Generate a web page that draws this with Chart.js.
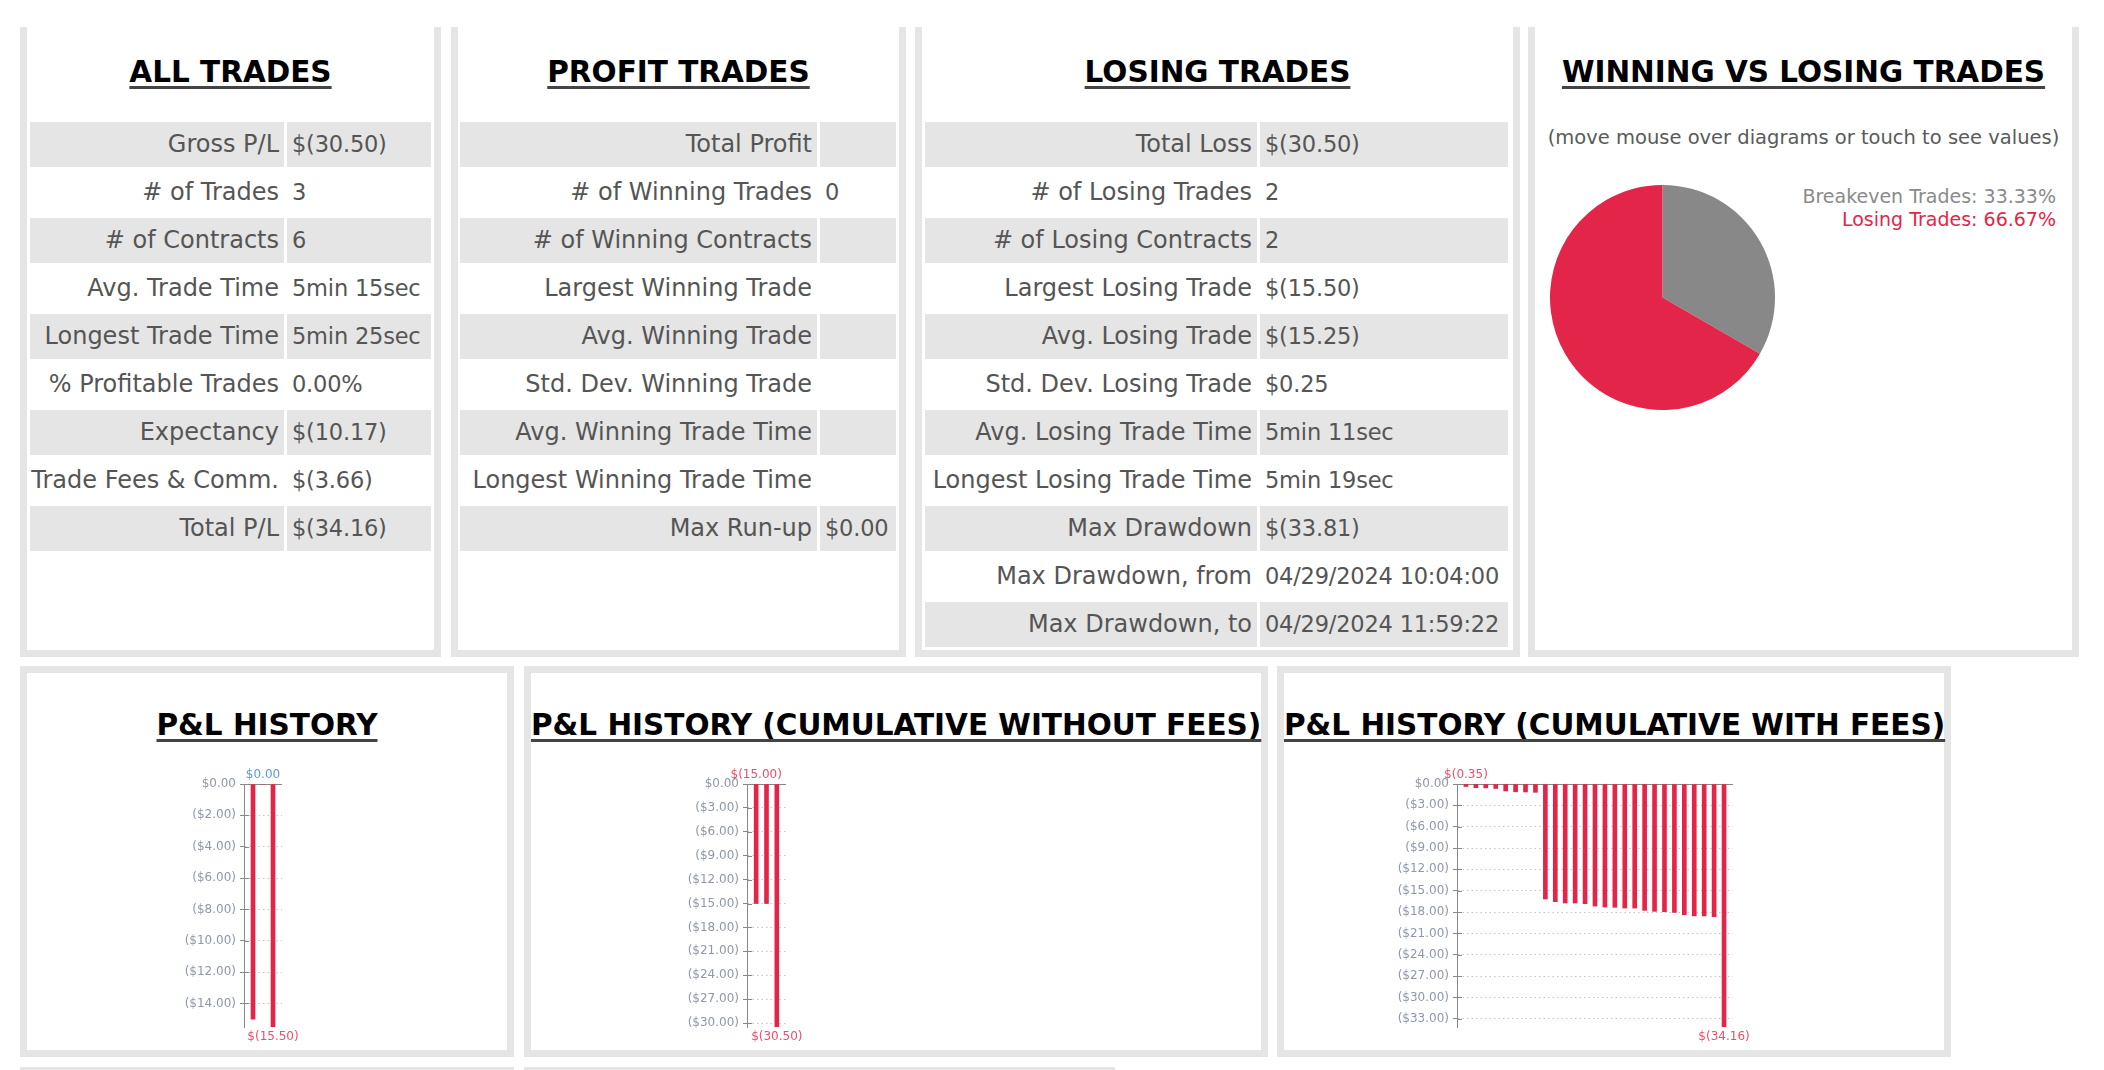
<!DOCTYPE html>
<html>
<head>
<meta charset="utf-8">
<script src="https://cdn.jsdelivr.net/npm/chart.js@4.4.1/dist/chart.umd.min.js"></script>
<style>
  body { margin: 0; width: 2104px; height: 1070px; overflow: hidden; background: #fff; position: relative;
         font-family: "DejaVu Sans", sans-serif; }
  .panel { position: absolute; box-sizing: border-box; border: 7px solid #e5e5e5; background: #fff; }
  .top { top: 27px; height: 630px; border-top: none; }
  .bottom { top: 666px; height: 391px; }
  .title { position: absolute; left: 0; right: 0; text-align: center; font-weight: bold; font-size: 29.5px;
           line-height: 40px; color: #000; white-space: nowrap; }
  .title span { text-decoration: underline; text-decoration-thickness: 3px; text-underline-offset: 4px;
                text-decoration-color: #444; }
  .top .title { top: 25px; }
  .bottom .title { top: 32px; }
  .tbl { position: absolute; top: 95px; }
  .row { display: flex; gap: 3px; height: 45px; margin-bottom: 3px; }
  .row div { box-sizing: border-box; line-height: 45px; color: #555; white-space: nowrap; }
  .row .k { text-align: right; padding-right: 5px; font-size: 24px; }
  .row .v { padding-left: 5px; font-size: 22.5px; letter-spacing: -0.2px; }
  .row.alt div { background: #e5e5e5; }
  .sub { position: absolute; left: 0; right: 0; top: 96px; text-align: center; font-size: 19.5px;
         line-height: 30px; color: #5a5a5a; white-space: nowrap; }
  #pieLegend { position: absolute; right: 48px; top: 185px; text-align: right; font-size: 19px; line-height: 23px; }
  canvas { position: absolute; }
  .strip { position: absolute; top: 1067px; height: 10px; background: #e5e5e5; }
</style>
</head>
<body>

<div class="panel top" style="left:20px;width:421px;">
  <div class="title"><span>ALL TRADES</span></div>
  <div class="tbl" id="tblAll" style="left:3px;"></div>
</div>
<div class="panel top" style="left:451px;width:455px;">
  <div class="title"><span>PROFIT TRADES</span></div>
  <div class="tbl" id="tblProfit" style="left:2px;"></div>
</div>
<div class="panel top" style="left:915px;width:605px;">
  <div class="title"><span>LOSING TRADES</span></div>
  <div class="tbl" id="tblLosing" style="left:3px;"></div>
</div>
<div class="panel top" style="left:1528px;width:551px;">
  <div class="title"><span>WINNING VS LOSING TRADES</span></div>
  <div class="sub">(move mouse over diagrams or touch to see values)</div>
</div>

<div class="panel bottom" style="left:20px;width:494px;">
  <div class="title"><span>P&amp;L HISTORY</span></div>
</div>
<div class="panel bottom" style="left:524px;width:744px;">
  <div class="title"><span>P&amp;L HISTORY (CUMULATIVE WITHOUT FEES)</span></div>
</div>
<div class="panel bottom" style="left:1277px;width:674px;">
  <div class="title"><span>P&amp;L HISTORY (CUMULATIVE WITH FEES)</span></div>
</div>
<div class="strip" style="left:20px;width:494px;"></div>
<div class="strip" style="left:524px;width:591px;"></div>

<canvas id="pie" width="225" height="225" style="left:1550px;top:185px;"></canvas>
<div id="pieLegend"></div>
<canvas id="plHist" width="158" height="291" style="left:164px;top:760px;"></canvas>
<canvas id="plCum" width="159" height="291" style="left:667px;top:760px;"></canvas>
<canvas id="plFees" width="396" height="291" style="left:1377px;top:760px;"></canvas>

<script>
// table texts
const allTradesKeys = ["Gross P/L", "# of Trades", "# of Contracts", "Avg. Trade Time", "Longest Trade Time",
  "% Profitable Trades", "Expectancy", "Trade Fees & Comm.", "Total P/L"];
const allTradesVals = ["$(30.50)", "3", "6", "5min 15sec", "5min 25sec", "0.00%", "$(10.17)", "$(3.66)", "$(34.16)"];

const profitKeys = ["Total Profit", "# of Winning Trades", "# of Winning Contracts", "Largest Winning Trade",
  "Avg. Winning Trade", "Std. Dev. Winning Trade", "Avg. Winning Trade Time", "Longest Winning Trade Time", "Max Run-up"];
const profitVals = ["", "0", "", "", "", "", "", "", "$0.00"];

const losingKeys = ["Total Loss", "# of Losing Trades", "# of Losing Contracts", "Largest Losing Trade",
  "Avg. Losing Trade", "Std. Dev. Losing Trade", "Avg. Losing Trade Time", "Longest Losing Trade Time",
  "Max Drawdown", "Max Drawdown, from", "Max Drawdown, to"];
const losingVals = ["$(30.50)", "2", "2", "$(15.50)", "$(15.25)", "$0.25", "5min 11sec", "5min 19sec",
  "$(33.81)", "04/29/2024 10:04:00", "04/29/2024 11:59:22"];

// pie
const pieLabels = ["Breakeven Trades", "Losing Trades"];
const pieValues = [33.33, 66.67];
const pieColors = ["#888888", "#e4254a"];

// bar charts
const plHistory = [-15.00, 0.00, -15.50];
const plCumulative = [-15.00, -15.00, -30.50];
const plWithFees = [-0.35, -0.52, -0.55, -0.63, -0.98, -1.10, -1.12, -1.17,
  -16.17, -16.54, -16.73, -16.73, -16.82, -17.16, -17.30, -17.34, -17.44, -17.44,
  -17.76, -17.90, -17.95, -18.04, -18.37, -18.56, -18.56, -18.66, -34.16];

const RED = "#e4254a";
const FONT = "'DejaVu Sans', sans-serif";

function fillTable(id, keys, vals, kw, vw) {
  const el = document.getElementById(id);
  keys.forEach((k, i) => {
    const row = document.createElement("div");
    row.className = "row" + (i % 2 === 0 ? " alt" : "");
    const a = document.createElement("div");
    a.className = "k"; a.style.width = kw + "px"; a.textContent = k;
    const b = document.createElement("div");
    b.className = "v"; b.style.width = vw + "px"; b.textContent = vals[i];
    row.appendChild(a); row.appendChild(b);
    el.appendChild(row);
  });
}
fillTable("tblAll", allTradesKeys, allTradesVals, 254, 144);
fillTable("tblProfit", profitKeys, profitVals, 357, 76);
fillTable("tblLosing", losingKeys, losingVals, 332, 248);

const legend = document.getElementById("pieLegend");
pieLabels.forEach((l, i) => {
  const d = document.createElement("div");
  d.style.color = i === 0 ? "#8a8a8a" : pieColors[i];
  d.textContent = l + ": " + pieValues[i].toFixed(2) + "%";
  legend.appendChild(d);
});

new Chart(document.getElementById("pie"), {
  type: "pie",
  data: { labels: pieLabels, datasets: [{ data: pieValues, backgroundColor: pieColors, borderWidth: 0 }] },
  options: {
    responsive: false, animation: false,
    plugins: { legend: { display: false }, tooltip: { enabled: false } }
  }
});

const money = v => v < 0 ? "$(" + Math.abs(v).toFixed(2) + ")" : "$" + v.toFixed(2);
const tickMoney = v => v < 0 ? "($" + Math.abs(v).toFixed(2) + ")" : "$" + v.toFixed(2);

// zero line, crossing ticks, max / min labels
const edgeLabels = {
  id: "edgeLabels",
  afterLayout(chart) {
    const x = chart.scales.x;
    x._startPixel += 4; x._endPixel -= 4;
    x._length = x._endPixel - x._startPixel;
  },
  beforeDatasetsDraw(chart) {
    const { ctx, chartArea: a, scales: { y } } = chart;
    const y0 = Math.round(y.getPixelForValue(0)) + 0.5;
    ctx.save();
    ctx.strokeStyle = "#888"; ctx.lineWidth = 1;
    ctx.beginPath(); ctx.moveTo(a.left, y0); ctx.lineTo(a.right, y0); ctx.stroke();
    ctx.restore();
  },
  afterDraw(chart) {
    const { ctx, chartArea: a, scales: { y } } = chart;
    ctx.save();
    ctx.strokeStyle = "#888"; ctx.lineWidth = 1;
    y.ticks.forEach(t => {
      const py = Math.round(y.getPixelForValue(t.value)) + 0.5;
      ctx.beginPath(); ctx.moveTo(a.left, py); ctx.lineTo(a.left + 5, py); ctx.stroke();
    });
    const vals = chart.data.datasets[0].data;
    const meta = chart.getDatasetMeta(0);
    const hi = Math.max(...vals), lo = Math.min(...vals);
    ctx.font = "12px " + FONT;
    ctx.textAlign = "center"; ctx.textBaseline = "middle";
    [[vals.indexOf(hi), a.top - 9], [vals.indexOf(lo), a.bottom + 10]].forEach(([i, py]) => {
      ctx.fillStyle = vals[i] < 0 ? "#ee4d6a" : "#5b9bd5";
      ctx.fillText(money(vals[i]), meta.data[i].x, py);
    });
    ctx.restore();
  }
};

function barChart(id, values, step) {
  const labels = values.map((_, i) => String(i + 1));
  return new Chart(document.getElementById(id), {
    type: "bar",
    data: { labels, datasets: [{ data: values, backgroundColor: RED, barThickness: 4 }] },
    options: {
      responsive: false, animation: false,
      layout: { padding: { top: 24, bottom: 24, right: 40, left: 0 } },
      plugins: { legend: { display: false }, tooltip: { enabled: false } },
      scales: {
        x: { display: false },
        y: {
          min: Math.min(...values), max: Math.max(0, ...values),
          afterFit: s => { s.width = 80; },
          ticks: { stepSize: step, includeBounds: false, padding: 4, color: "#8e98a8",
                   font: { family: FONT, size: 12 }, callback: v => tickMoney(v) },
          grid: { color: c => (c.tick && c.tick.value === 0) ? "rgba(0,0,0,0)" : "#c6c6c6",
                  tickColor: "#888", tickLength: 4, lineWidth: 1 },
          border: { color: "#888", dash: [1.5, 3] }
        }
      }
    },
    plugins: [edgeLabels]
  });
}

barChart("plHist", plHistory, 2);
barChart("plCum", plCumulative, 3);
barChart("plFees", plWithFees, 3);
</script>
</body>
</html>
